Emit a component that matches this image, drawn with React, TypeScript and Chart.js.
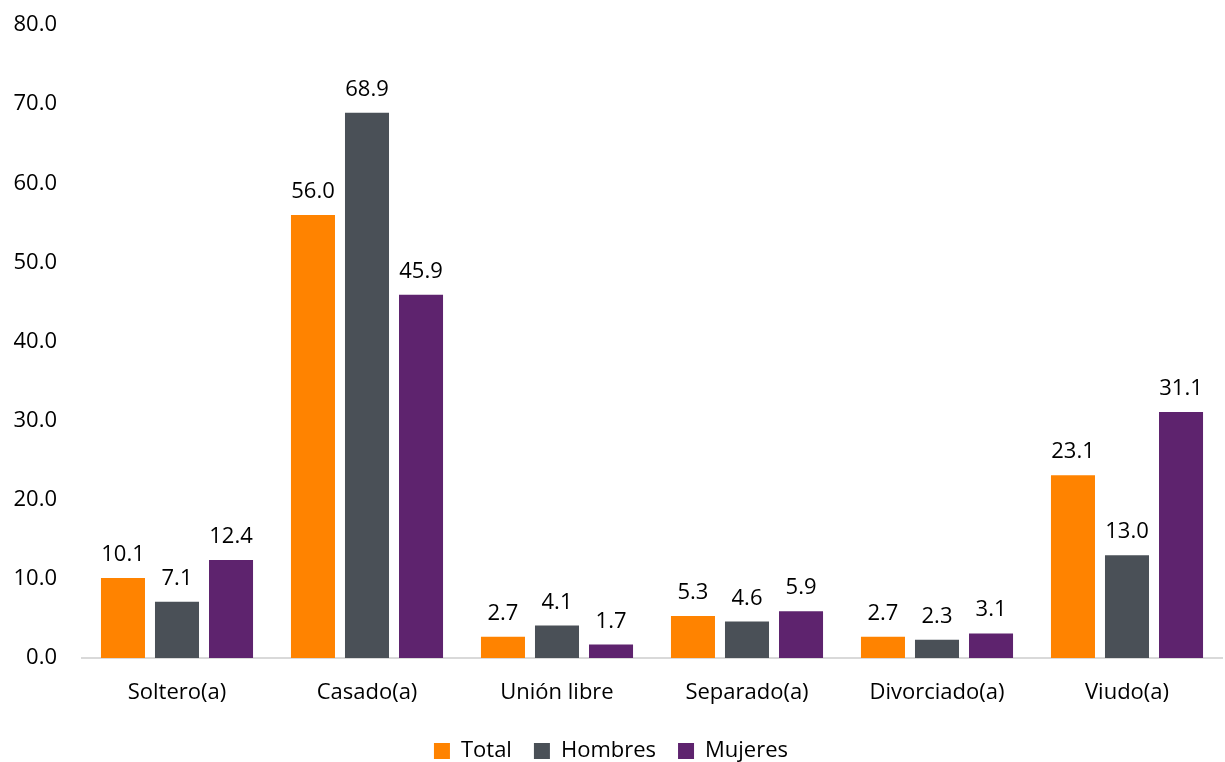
import React, { useEffect, useRef } from "react";
import { Chart, registerables } from "chart.js";

Chart.register(...registerables);

const categories = ["Soltero(a)", "Casado(a)", "Unión libre", "Separado(a)", "Divorciado(a)", "Viudo(a)"];
const totalValues = [10.1, 56.0, 2.7, 5.3, 2.7, 23.1];
const hombresValues = [7.1, 68.9, 4.1, 4.6, 2.3, 13.0];
const mujeresValues = [12.4, 45.9, 1.7, 5.9, 3.1, 31.1];
const seriesNames = ["Total", "Hombres", "Mujeres"];
const seriesColors = ["#FF8300", "#4A5057", "#5E236E"];

const FONT = "'Open Sans', 'Noto Sans', sans-serif";

const valueLabels = {
  id: "valueLabels",
  afterDatasetsDraw(chart: any) {
    const ctx = chart.ctx;
    ctx.save();
    ctx.font = `22px ${FONT}`;
    ctx.fillStyle = "#000000";
    ctx.textAlign = "center";
    ctx.textBaseline = "alphabetic";
    chart.data.datasets.forEach((ds: any, i: number) => {
      const meta = chart.getDatasetMeta(i);
      meta.data.forEach((el: any, j: number) => {
        const v = ds.data[j] as number;
        ctx.fillText(v.toFixed(1), el.x, el.y - 17);
      });
    });
    ctx.restore();
  },
};

export default function App() {
  const ref = useRef<HTMLCanvasElement | null>(null);
  useEffect(() => {
    if (!ref.current) return;
    const values = [totalValues, hombresValues, mujeresValues];
    const chart = new Chart(ref.current, {
      type: "bar",
      data: {
        labels: categories,
        datasets: seriesNames.map((name, i) => ({
          label: name,
          data: values[i],
          backgroundColor: seriesColors[i],
          borderWidth: 0,
          categoryPercentage: 0.853,
          barPercentage: 0.815,
        })),
      },
      options: {
        responsive: false,
        animation: false,
        layout: { padding: { top: 25, right: 3, left: 0, bottom: -10 } },
        plugins: {
          legend: {
            position: "bottom",
            labels: {
              boxWidth: 16,
              boxHeight: 16,
              padding: 22,
              color: "#000000",
              font: { family: FONT, size: 22 },
            },
          },
          tooltip: { enabled: false },
        },
        scales: {
          x: {
            grid: { display: false, drawTicks: false },
            border: { display: true, color: "#D9D9D9", width: 2 },
            ticks: { color: "#000000", font: { family: FONT, size: 22 }, padding: 22 },
            afterFit: (scale: any) => {
              scale.height = 60;
              scale.paddingLeft = 0;
              scale.paddingRight = 0;
            },
          },
          y: {
            min: 0,
            max: 80,
            grid: { display: false, drawTicks: false },
            border: { display: false },
            ticks: {
              stepSize: 10,
              color: "#000000",
              font: { family: FONT, size: 22 },
              padding: 25,
              callback: (v: any) => Number(v).toFixed(1),
            },
            afterFit: (scale: any) => {
              scale.width = 82;
              scale.paddingTop = 0;
              scale.paddingBottom = 0;
            },
          },
        },
      },
      plugins: [valueLabels],
    });
    return () => chart.destroy();
  }, []);
  return (
    <div style={{ position: "fixed", left: 0, top: 0, width: 1225, height: 762, background: "#fff" }}>
      <canvas ref={ref} width={1225} height={762} />
    </div>
  );
}
